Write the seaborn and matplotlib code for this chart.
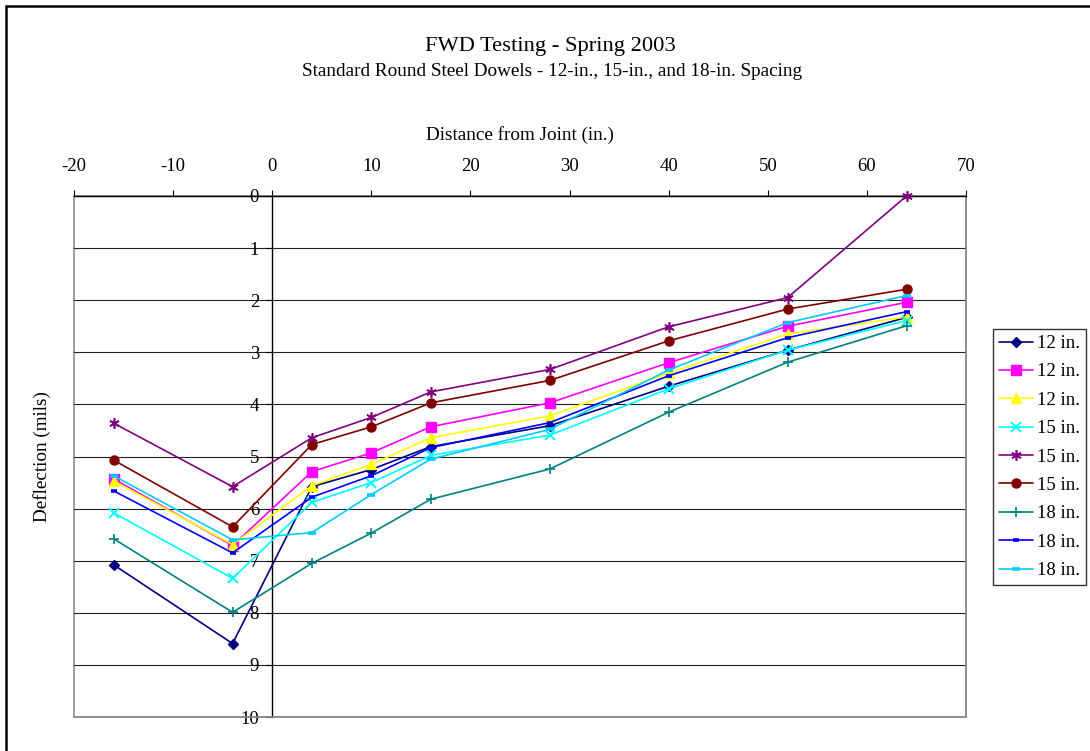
import matplotlib
matplotlib.use("Agg")
import matplotlib.pyplot as plt
from matplotlib.patches import Rectangle
from matplotlib.lines import Line2D
import seaborn as sns
import pandas as pd

# Distance of each FWD sensor from the joint (in.)
distance = [-16, -4, 4, 10, 16, 28, 40, 52, 64]

# Deflection (mils) for each test slab
spacing_labels = ["12 in.", "12 in.", "12 in.", "15 in.", "15 in.", "15 in.",
                  "18 in.", "18 in.", "18 in."]
dowel_12a = [7.08, 8.59, 5.58, 5.25, 4.81, 4.41, 3.65, 2.96, 2.33]
dowel_12b = [5.43, 6.71, 5.29, 4.93, 4.43, 3.97, 3.20, 2.50, 2.04]
dowel_12c = [5.47, 6.69, 5.56, 5.15, 4.64, 4.22, 3.40, 2.65, 2.32]
dowel_15a = [6.08, 7.34, 5.88, 5.50, 4.98, 4.59, 3.70, 2.96, 2.39]
dowel_15b = [4.36, 5.58, 4.64, 4.25, 3.76, 3.33, 2.51, 1.95, 0.00]
dowel_15c = [5.07, 6.35, 4.77, 4.43, 3.97, 3.54, 2.78, 2.17, 1.79]
dowel_18a = [6.58, 7.99, 7.05, 6.47, 5.82, 5.24, 4.15, 3.19, 2.49]
dowel_18b = [5.66, 6.85, 5.78, 5.37, 4.83, 4.35, 3.45, 2.72, 2.22]
dowel_18c = [5.37, 6.60, 6.46, 5.73, 5.05, 4.48, 3.34, 2.43, 1.91]

series = [dowel_12a, dowel_12b, dowel_12c, dowel_15a, dowel_15b, dowel_15c,
          dowel_18a, dowel_18b, dowel_18c]

# line styling per series: colour, marker, marker size, marker edge width
styles = [
    ("#000080", "D", 5.0, 1.0),
    ("#FF00FF", "s", 6.5, 1.0),
    ("#FFFF00", "^", 7.0, 1.0),
    ("#00FFFF", "x", 6.5, 1.4),
    ("#800080", (6, 2, 0), 7.5, 1.2),
    ("#800000", "o", 6.5, 1.0),
    ("#008080", "+", 7.0, 1.2),
    ("#0000FF", "_", 4.0, 2.6),
    ("#00CCFF", "_", 6.0, 2.6),
]

rows = []
for idx, vals in enumerate(series):
    for d, v in zip(distance, vals):
        rows.append({"series": idx, "distance": d, "deflection": v})
df = pd.DataFrame(rows)

sns.set_theme(style="white")
plt.rcParams["font.family"] = ["Liberation Serif", "DejaVu Serif"]
plt.rcParams["axes.unicode_minus"] = False

W, H = 1090, 751
fig = plt.figure(figsize=(W / 100, H / 100), dpi=100)
ax = fig.add_axes([74 / W, 1 - 717 / H, (966 - 74) / W, (717 - 196) / H])

handles = []
for idx, (color, marker, ms, mew) in enumerate(styles):
    sub = df[df["series"] == idx]
    sns.lineplot(data=sub, x="distance", y="deflection", ax=ax, color=color,
                 marker=marker, markersize=ms, markeredgecolor=color,
                 markerfacecolor=color, markeredgewidth=mew, linewidth=1.2,
                 sort=False, estimator=None, legend=False, clip_on=False,
                 zorder=3)
    handles.append(Line2D([], [], color=color, marker=marker, markersize=ms,
                          markeredgecolor=color, markerfacecolor=color,
                          markeredgewidth=mew, linewidth=1.2))

ax.set_xlim(-20, 70)
ax.set_ylim(10, 0)
ax.set_xticks(range(-20, 71, 10))
ax.set_yticks(range(0, 11))

# horizontal gridlines
ax.yaxis.grid(True, color="#222222", linewidth=0.8)
ax.xaxis.grid(False)
ax.set_axisbelow(True)

# plot-area frame
ax.patch.set_edgecolor("#8c8c8c")
ax.patch.set_linewidth(1.2)
for side in ("right", "bottom"):
    ax.spines[side].set_color("#8c8c8c")
    ax.spines[side].set_linewidth(1.2)
ax.spines["top"].set_color("black")
ax.spines["top"].set_linewidth(1.0)
ax.spines["left"].set_position(("data", 0))
ax.spines["left"].set_color("black")
ax.spines["left"].set_linewidth(1.0)

# x axis on top
ax.xaxis.tick_top()
ax.xaxis.set_label_position("top")
ax.tick_params(axis="x", which="both", top=True, bottom=False, direction="out",
               length=4.5, width=0.8, color="black", pad=10.5, labelsize=13.5,
               labelcolor="black")
ax.tick_params(axis="y", which="both", left=True, direction="out", length=4.5,
               width=0.8, color="black", pad=5, labelsize=13.5,
               labelcolor="black")

ax.set_xlabel("Distance from Joint (in.)", fontsize=13.8, color="black")
ax.xaxis.set_label_coords(0.5, 1 + (196 - 135) / (717 - 196))
ax.xaxis.label.set_va("center")
ax.set_ylabel("Deflection (mils)", fontsize=13.8, color="black")
ax.yaxis.set_label_coords((42 - 74) / (966 - 74), 0.5)
ax.yaxis.label.set_va("center")

fig.text(550 / W, 1 - 47 / H, "FWD Testing - Spring 2003", ha="center",
         va="center", fontsize=16.2, color="black")
fig.text(552 / W, 1 - 72 / H,
         "Standard Round Steel Dowels - 12-in., 15-in., and 18-in. Spacing",
         ha="center", va="center", fontsize=13.8, color="black")

leg = fig.legend(handles, spacing_labels, loc="upper left",
                 bbox_to_anchor=(993 / W, 1 - 329 / H), frameon=True,
                 fancybox=False, shadow=False, fontsize=13.5, handlelength=1.8,
                 handletextpad=0.22, labelspacing=0.6, borderpad=0.32,
                 borderaxespad=0)
leg.get_frame().set_edgecolor("black")
leg.get_frame().set_linewidth(1.0)
for t in leg.get_texts():
    t.set_color("black")

# outer chart border
fig.patches.append(Rectangle((5.5 / W, -0.05), 1.2, 1 - 5.5 / H + 0.05,
                             transform=fig.transFigure, fill=False,
                             edgecolor="black", linewidth=1.8))

fig.savefig("out.png", dpi=100, facecolor="white")
